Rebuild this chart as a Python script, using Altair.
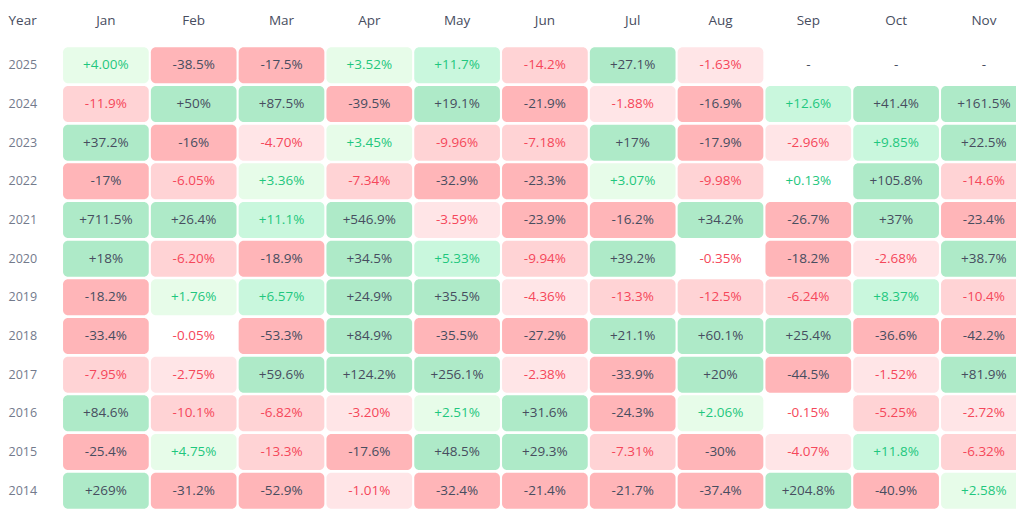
import altair as alt
import pandas as pd

months = ["Jan", "Feb", "Mar", "Apr", "May", "Jun", "Jul", "Aug", "Sep", "Oct", "Nov"]
years = ["2025", "2024", "2023", "2022", "2021", "2020", "2019", "2018", "2017", "2016", "2015", "2014"]

r2025 = ["+4.00%", "-38.5%", "-17.5%", "+3.52%", "+11.7%", "-14.2%", "+27.1%", "-1.63%", "-", "-", "-"]
r2024 = ["-11.9%", "+50%", "+87.5%", "-39.5%", "+19.1%", "-21.9%", "-1.88%", "-16.9%", "+12.6%", "+41.4%", "+161.5%"]
r2023 = ["+37.2%", "-16%", "-4.70%", "+3.45%", "-9.96%", "-7.18%", "+17%", "-17.9%", "-2.96%", "+9.85%", "+22.5%"]
r2022 = ["-17%", "-6.05%", "+3.36%", "-7.34%", "-32.9%", "-23.3%", "+3.07%", "-9.98%", "+0.13%", "+105.8%", "-14.6%"]
r2021 = ["+711.5%", "+26.4%", "+11.1%", "+546.9%", "-3.59%", "-23.9%", "-16.2%", "+34.2%", "-26.7%", "+37%", "-23.4%"]
r2020 = ["+18%", "-6.20%", "-18.9%", "+34.5%", "+5.33%", "-9.94%", "+39.2%", "-0.35%", "-18.2%", "-2.68%", "+38.7%"]
r2019 = ["-18.2%", "+1.76%", "+6.57%", "+24.9%", "+35.5%", "-4.36%", "-13.3%", "-12.5%", "-6.24%", "+8.37%", "-10.4%"]
r2018 = ["-33.4%", "-0.05%", "-53.3%", "+84.9%", "-35.5%", "-27.2%", "+21.1%", "+60.1%", "+25.4%", "-36.6%", "-42.2%"]
r2017 = ["-7.95%", "-2.75%", "+59.6%", "+124.2%", "+256.1%", "-2.38%", "-33.9%", "+20%", "-44.5%", "-1.52%", "+81.9%"]
r2016 = ["+84.6%", "-10.1%", "-6.82%", "-3.20%", "+2.51%", "+31.6%", "-24.3%", "+2.06%", "-0.15%", "-5.25%", "-2.72%"]
r2015 = ["-25.4%", "+4.75%", "-13.3%", "-17.6%", "+48.5%", "+29.3%", "-7.31%", "-30%", "-4.07%", "+11.8%", "-6.32%"]
r2014 = ["+269%", "-31.2%", "-52.9%", "-1.01%", "-32.4%", "-21.4%", "-21.7%", "-37.4%", "+204.8%", "-40.9%", "+2.58%"]

rows = [r2025, r2024, r2023, r2022, r2021, r2020, r2019, r2018, r2017, r2016, r2015, r2014]


def tier(v):
    if v is None:
        return "none"
    a = abs(v)
    s = "g" if v >= 0 else "r"
    if a < 1:
        return s + "0"
    if a < 5:
        return s + "1"
    if a < 15:
        return s + "2"
    return s + "3"


def text_kind(t):
    if t in ("none", "g3", "r3"):
        return "dark"
    return "up" if t[0] == "g" else "down"


recs = []
for y, row in zip(years, rows):
    for m, lab in zip(months, row):
        v = None if lab == "-" else float(lab.replace("%", ""))
        t = tier(v)
        recs.append({"year": y, "month": m, "label": lab, "tier": t, "tk": text_kind(t)})
df = pd.DataFrame(recs)

tiers = ["g0", "g1", "g2", "g3", "r0", "r1", "r2", "r3"]
tier_colors = ["#ffffff", "#e7fce9", "#c9f7dd", "#aeeac8", "#ffffff", "#ffe5e7", "#ffd3d5", "#ffb5b8"]

x = alt.X("month:N", sort=months,
          scale=alt.Scale(domain=months, range=[0, 965.8], paddingInner=0.024, paddingOuter=0.012),
          axis=alt.Axis(orient="top", title=None, ticks=False, domain=False, grid=False, labelAngle=0,
                        labelFont="Open Sans", labelFontSize=13.5, labelColor="#474d60",
                        labelPadding=26, labelBaseline="middle"))
y = alt.Y("year:N", sort=years,
          scale=alt.Scale(domain=years, paddingInner=0.068, paddingOuter=0.034),
          axis=alt.Axis(title="Year", titleAngle=0, titleX=-54, titleY=-26, titleAlign="left",
                        titleBaseline="middle", titleFont="Open Sans", titleFontSize=13.5,
                        titleFontWeight="normal", titleColor="#474d60", grid=False,
                        ticks=False, domain=False, labelAlign="left", labelPadding=54,
                        labelFont="Open Sans", labelFontSize=12.5, labelColor="#737a8c"))

base = alt.Chart(df)

cells = base.transform_filter("datum.tier != 'none'").mark_rect(cornerRadius=5, clip=True).encode(
    x=x, y=y,
    fill=alt.Fill("tier:N", scale=alt.Scale(domain=tiers, range=tier_colors), legend=None),
)

texts = base.mark_text(font="Open Sans", fontSize=13.5, clip=True).encode(
    x=x, y=y,
    text="label:N",
    color=alt.Color("tk:N", scale=alt.Scale(domain=["dark", "up", "down"],
                                            range=["#474d5f", "#1fc77e", "#f5475a"]), legend=None),
)

chart = alt.layer(cells, texts).properties(
    width=954, height=464,
    background="#ffffff",
    autosize=alt.AutoSizeParams(type="none"),
    padding={"left": 54, "top": 38, "right": 0, "bottom": 0},
).configure_view(strokeWidth=0, stroke="transparent").configure_axis(grid=False)

chart.save("out.html", embed_options={"renderer": "svg", "actions": False})
